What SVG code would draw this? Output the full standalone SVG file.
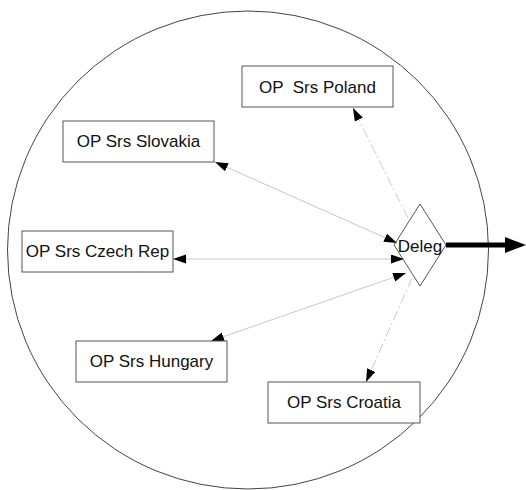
<svg xmlns="http://www.w3.org/2000/svg" width="526" height="490" viewBox="0 0 526 490">
<style>
.box{fill:#fff;stroke:#555;stroke-width:1}
.lbl{font-family:"Liberation Sans",Arial,sans-serif;font-size:17px;fill:#111;text-anchor:middle}
.c{fill:none;stroke:#c8c8c8;stroke-width:1}
.dd{stroke-dasharray:10 3 2 3}
</style>
<defs>
<marker id="ah" markerUnits="userSpaceOnUse" markerWidth="14" markerHeight="10" refX="13" refY="4.5" orient="auto-start-reverse">
<path d="M0,0 L13,4.5 L0,9 z" fill="#000"/>
</marker>
</defs>
<rect width="526" height="490" fill="#fff"/>
<ellipse cx="248" cy="250" rx="240.5" ry="239" fill="none" stroke="#444" stroke-width="1"/>
<g id="deleg">
<polygon points="420,204 446,245 420,286 394,245" fill="#fff" stroke="#555" stroke-width="1"/>
</g>
<g id="connectors">
<line class="c dd" x1="408" y1="218" x2="353" y2="108" marker-end="url(#ah)"/>
<line class="c" x1="397" y1="243" x2="215" y2="162" marker-start="url(#ah)" marker-end="url(#ah)"/>
<line class="c" x1="404" y1="259" x2="173" y2="259" marker-start="url(#ah)" marker-end="url(#ah)"/>
<line class="c" x1="406" y1="273" x2="211" y2="341" marker-start="url(#ah)" marker-end="url(#ah)"/>
<line class="c dd" x1="412" y1="278" x2="366" y2="382" marker-end="url(#ah)"/>
<line x1="446" y1="245" x2="507" y2="245" stroke="#000" stroke-width="5"/>
<polygon points="505,237 526,245 505,253" fill="#000"/>
</g>
<text class="lbl" x="420" y="252">Deleg</text>
<g id="poland">
<rect class="box" x="242" y="66" width="151" height="41"/>
<text class="lbl" x="317.5" y="93" xml:space="preserve">OP  Srs Poland</text>
</g>
<g id="slovakia">
<rect class="box" x="63" y="121" width="151" height="41"/>
<text class="lbl" x="138.5" y="147">OP Srs Slovakia</text>
</g>
<g id="czech">
<rect class="box" x="22" y="231" width="151" height="41"/>
<text class="lbl" x="97.5" y="257">OP Srs Czech Rep</text>
</g>
<g id="hungary">
<rect class="box" x="76" y="341" width="151" height="41"/>
<text class="lbl" x="151.5" y="367">OP Srs Hungary</text>
</g>
<g id="croatia">
<rect class="box" x="268" y="382" width="152" height="41"/>
<text class="lbl" x="344" y="408">OP Srs Croatia</text>
</g>
</svg>
